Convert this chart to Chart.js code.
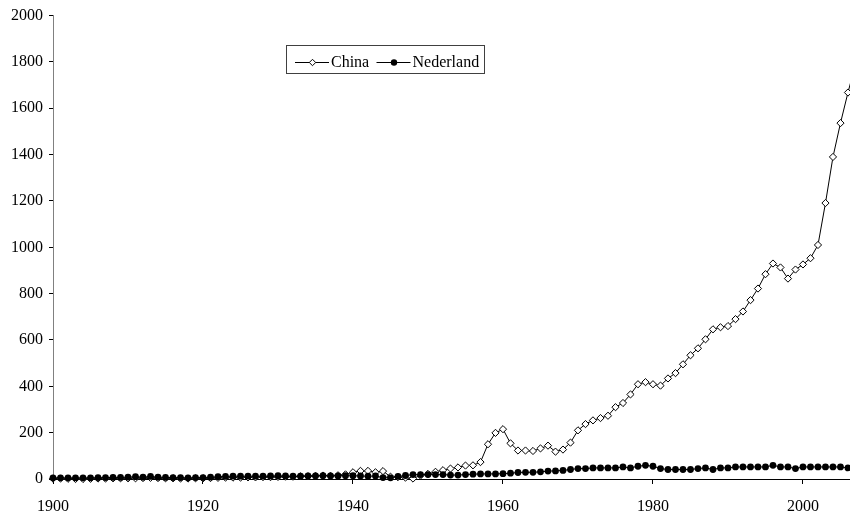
<!DOCTYPE html>
<html>
<head>
<meta charset="utf-8">
<script src="https://cdn.jsdelivr.net/npm/chart.js@4/dist/chart.umd.min.js"></script>
<style>
  html, body { margin: 0; padding: 0; background: #ffffff; }
  #chart { display: block; }
</style>
</head>
<body>
<canvas id="chart" width="850" height="521"></canvas>
<script>
// China vs Nederland, 1900-2007

const years = Array.from({ length: 108 }, (_, i) => 1900 + i);

const chinaValues = [
  2, 2, 1, 0, 0, 1, 2, 2, 3, 3,            // 1900-1909
  3, 3, 4, 5, 4, 3, 3, 2, 2, 3,            // 1910-1919
  3, 4, 5, 6, 6, 6, 7, 7, 8, 8,            // 1920-1929
  9, 10, 10, 12, 12, 14, 15, 14, 16, 20,   // 1930-1939
  29, 35, 35, 29, 34, 10, 8, 6, 2, 15,     // 1940-1949
  22, 31, 38, 45, 50, 58, 59, 73, 150, 199, // 1950-1959
  215, 154, 123, 123, 121, 132, 144, 118, 127, 157, // 1960-1969
  210, 237, 253, 263, 273, 310, 328, 365, 409, 418, // 1970-1979
  409, 403, 434, 457, 495, 534, 564, 603, 646, 655, // 1980-1989
  660, 690, 723, 772, 822, 884, 930, 913, 865, 904, // 1990-1999
  926, 953, 1010, 1191, 1390, 1536, 1668, 1790      // 2000-2007
];

const nederlandValues = [
  5, 5, 5, 5, 5, 5, 6, 6, 7, 7,            // 1900-1909
  8, 10, 8, 11, 8, 7, 6, 6, 5, 6,          // 1910-1919
  6, 8, 10, 11, 12, 12, 12, 12, 12, 13,    // 1920-1929
  14, 13, 12, 12, 13, 13, 14, 13, 13, 14,  // 1930-1939
  14, 13, 12, 13, 6, 5, 11, 15, 19, 19,    // 1940-1949
  19, 19, 19, 17, 17, 19, 21, 22, 22, 22,  // 1950-1959
  23, 25, 28, 29, 29, 31, 34, 35, 37, 41,  // 1960-1969
  45, 45, 48, 48, 48, 48, 52, 48, 55, 59,  // 1970-1979
  55, 45, 41, 41, 41, 41, 45, 48, 41, 48,  // 1980-1989
  48, 52, 52, 52, 52, 52, 59, 52, 52, 45,  // 1990-1999
  52, 52, 52, 52, 52, 52, 48, 48           // 2000-2007
];

const xTickValues = [1900, 1920, 1940, 1960, 1980, 2000];
const yTickStep = 200;
const seriesNames = ["China", "Nederland"];

const serifFont = "'Liberation Serif', 'Times New Roman', serif";

// legend drawn as a framed box with line+marker samples
const boxLegend = {
  id: "boxLegend",
  afterDraw(chart) {
    const ctx = chart.ctx;
    ctx.save();
    ctx.strokeStyle = "#404040";
    ctx.lineWidth = 1;
    ctx.strokeRect(286.5, 45.5, 198, 28);

    const cy = 62.5;
    const items = [
      { x: 295, name: seriesNames[0], style: "diamond" },
      { x: 376.5, name: seriesNames[1], style: "circle" },
    ];
    items.forEach((it) => {
      ctx.strokeStyle = "#000000";
      ctx.beginPath();
      ctx.moveTo(it.x, cy);
      ctx.lineTo(it.x + 34, cy);
      ctx.stroke();
      const mx = it.x + 17.5;
      ctx.beginPath();
      if (it.style === "diamond") {
        ctx.moveTo(mx, cy - 3.2);
        ctx.lineTo(mx + 3.2, cy);
        ctx.lineTo(mx, cy + 3.2);
        ctx.lineTo(mx - 3.2, cy);
        ctx.closePath();
        ctx.fillStyle = "#ffffff";
        ctx.fill();
        ctx.stroke();
      } else {
        ctx.arc(mx, cy, 3.2, 0, Math.PI * 2);
        ctx.fillStyle = "#000000";
        ctx.fill();
      }
      ctx.fillStyle = "#000000";
      ctx.font = "16px " + serifFont;
      ctx.textBaseline = "middle";
      ctx.textAlign = "left";
      ctx.fillText(it.name, it.x + 36, cy + 0.5);
    });
    ctx.restore();
  },
};

const ctx = document.getElementById("chart");

new Chart(ctx.getContext("2d"), {
  type: "line",
  data: {
    datasets: [
      {
        label: seriesNames[0],
        data: years.map((y, i) => ({ x: y, y: chinaValues[i] })),
        borderColor: "#000000",
        borderWidth: 1,
        pointStyle: "rectRot",
        pointRadius: 3.6,
        pointBackgroundColor: "#ffffff",
        pointBorderColor: "#000000",
        pointBorderWidth: 1,
        tension: 0,
        clip: false,
        order: 1,
      },
      {
        label: seriesNames[1],
        data: years.map((y, i) => ({ x: y, y: nederlandValues[i] })),
        borderColor: "#000000",
        borderWidth: 1,
        pointStyle: "circle",
        pointRadius: 3.4,
        pointBackgroundColor: "#000000",
        pointBorderColor: "#000000",
        pointBorderWidth: 0,
        tension: 0,
        clip: false,
        order: 0,
      },
    ],
  },
  options: {
    responsive: false,
    animation: false,
    layout: {
      autoPadding: false,
      padding: { top: 15, right: 0, bottom: 0, left: 0 },
    },
    plugins: {
      legend: { display: false },
      tooltip: { enabled: false },
    },
    scales: {
      x: {
        type: "linear",
        min: 1900,
        max: 2006.27,
        afterBuildTicks: (scale) => {
          scale.ticks = xTickValues.map((v) => ({ value: v }));
        },
        afterFit: (scale) => {
          scale.height = 42;
        },
        grid: {
          display: true,
          drawOnChartArea: false,
          drawTicks: true,
          tickLength: 5,
          color: "#000000",
        },
        border: { display: true, color: "#000000", width: 1 },
        ticks: {
          color: "#000000",
          padding: 13,
          maxRotation: 0,
          font: { family: serifFont, size: 16 },
          callback: (v) => String(v),
        },
      },
      y: {
        min: 0,
        max: 2000,
        afterFit: (scale) => {
          scale.width = 53;
        },
        grid: {
          display: true,
          drawOnChartArea: false,
          drawTicks: true,
          tickLength: 4,
          color: "#000000",
        },
        border: { display: true, color: "#808080", width: 1 },
        ticks: {
          stepSize: yTickStep,
          color: "#000000",
          padding: 6,
          font: { family: serifFont, size: 16 },
          callback: (v) => String(v),
        },
      },
    },
  },
  plugins: [boxLegend],
});
</script>
</body>
</html>
